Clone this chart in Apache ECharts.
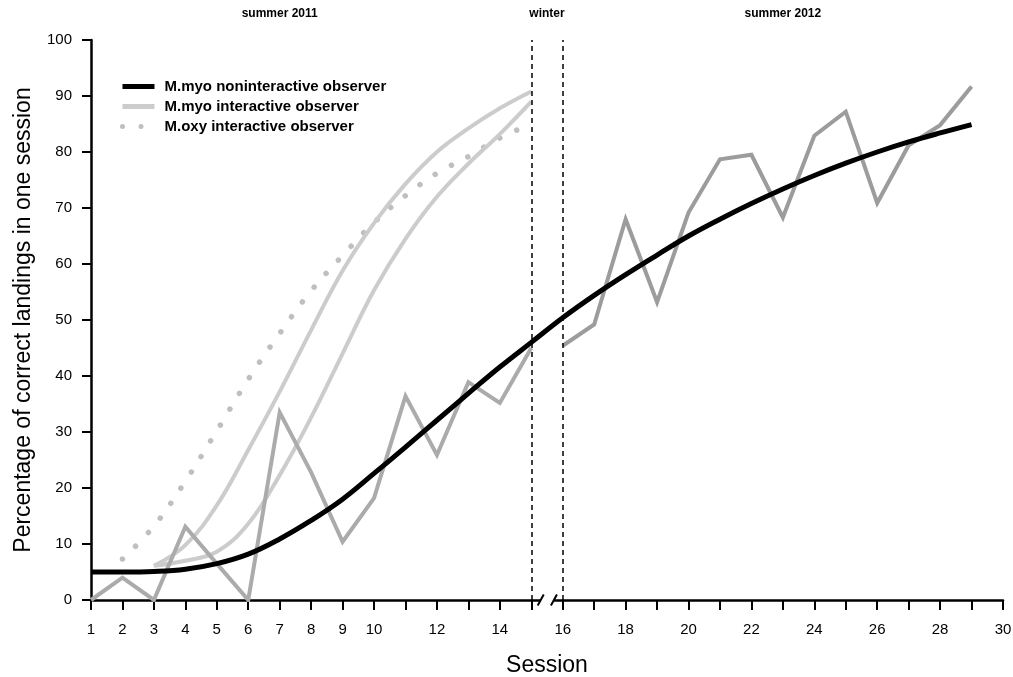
<!DOCTYPE html>
<html>
<head>
<meta charset="utf-8">
<script src="https://cdn.jsdelivr.net/npm/echarts@6/dist/echarts.min.js"></script>
<style>html,body{margin:0;padding:0;background:#fff}#chart{width:1013px;height:677px}</style>
</head>
<body>
<div id="chart"></div>
<script>
// ---- data ----
const sessions = [1,2,3,4,5,6,7,8,9,10,11,12,13,14,15,16,17,18,19,20,21,22,23,24,25,26,27,28,29];
const noninteractiveFit = [5.0,5.0,5.1,5.5,6.5,8.2,10.9,14.2,18.0,22.6,27.3,32.1,36.9,41.6,46.0,50.4,54.4,58.1,61.6,65.0,68.0,70.8,73.4,75.8,78.0,80.0,81.8,83.4,84.9];
const sessions2011 = [1,2,3,4,5,6,7,8,9,10,11,12,13,14,15];
const noninteractive2011 = [0,4.0,0,13.1,6.5,0,33.5,22.8,10.4,18.2,36.4,25.9,38.9,35.2,45.0];
const sessions2012 = [16,17,18,19,20,21,22,23,24,25,26,27,28,29];
const noninteractive2012 = [45.4,49.2,68.0,53.2,69.2,78.7,79.5,68.3,82.9,87.2,70.9,81.2,84.8,91.7];
const interactiveSessions = [3,4,5,6,7,8,9,10,11,12,13,14,15];
const myoInteractiveUpper = [6.1,9.8,16.9,26.8,37.2,48.2,58.8,67.3,74.3,80.0,84.2,87.8,90.8];
const myoInteractiveLower = [6.1,7.0,8.6,13.6,22.3,32.6,44.0,55.3,64.5,72.0,77.9,83.2,89.0];
const oxySessions = [2,3,4,5,6,7,8,9,10,11,12,13,14,15];
const oxyInteractive = [7.3,13.2,21.2,30.2,39.4,47.6,55.2,61.5,67.4,72.2,76.2,79.2,82.5,85.0];
const winterBounds = [15,16];
const periodLabels = ['summer 2011','winter','summer 2012'];
const periodCenters = [7,15.5,23];
const xTickLabels = [1,2,3,4,5,6,7,8,9,10,12,14,16,18,20,22,24,26,28,30];

const pairs = (xs, ys) => xs.map((x, i) => [x, ys[i]]);
const FONT = 'Liberation Sans, Arial, sans-serif';

const chart = echarts.init(document.getElementById('chart'), null, {renderer: 'canvas'});
chart.setOption({
  animation: false,
  backgroundColor: '#fff',
  grid: {left: 91, right: 10, top: 40, bottom: 77, containLabel: false, outerBoundsMode: 'none'},
  legend: {
    data: ['M.myo noninteractive observer', 'M.myo interactive observer', 'M.oxy interactive observer'],
    orient: 'vertical', left: 120, top: 79, padding: 0,
    itemWidth: 32, itemHeight: 14, itemGap: 5,
    itemStyle: {opacity: 0},
    lineStyle: {width: 5},
    textStyle: {fontFamily: FONT, fontSize: 15, fontWeight: 'bold', color: '#000', padding: [0,0,0,5]}
  },
  xAxis: {
    type: 'value', min: 1, max: 30, interval: 1,
    name: 'Session', nameLocation: 'middle', nameGap: 54,
    nameTextStyle: {fontFamily: FONT, fontSize: 23, color: '#000'},
    axisLine: {lineStyle: {color: '#000', width: 2.5}},
    axisTick: {length: 10, lineStyle: {color: '#000', width: 2}},
    axisLabel: {
      margin: 22, fontFamily: FONT, fontSize: 15, color: '#000',
      formatter: v => xTickLabels.indexOf(v) >= 0 ? String(v) : ''
    },
    splitLine: {show: false}
  },
  yAxis: {
    type: 'value', min: 0, max: 100, interval: 10,
    name: 'Percentage of correct landings in one session', nameLocation: 'middle', nameGap: 56,
    nameTextStyle: {fontFamily: FONT, fontSize: 23, color: '#000'},
    axisLine: {show: true, lineStyle: {color: '#000', width: 2.5}},
    axisTick: {show: true, length: 9, lineStyle: {color: '#000', width: 2}},
    axisLabel: {margin: 19, fontFamily: FONT, fontSize: 15, color: '#000'},
    splitLine: {show: false}
  },
  series: [
    {
      name: 'M.oxy interactive observer', type: 'line', smooth: 0.4, symbol: 'none',
      data: pairs(oxySessions, oxyInteractive),
      lineStyle: {color: '#bfbfbf', width: 5.5, type: [0.01, 18.5], cap: 'round'},
      itemStyle: {color: '#bfbfbf'}, z: 2
    },
    {
      name: 'M.myo interactive observer', type: 'line', smooth: 0.4, symbol: 'none',
      data: pairs(interactiveSessions, myoInteractiveUpper),
      lineStyle: {color: '#cccccc', width: 4}, itemStyle: {color: '#cccccc'}, z: 3
    },
    {
      name: 'M.myo interactive observer', type: 'line', smooth: 0.4, symbol: 'none',
      data: pairs(interactiveSessions, myoInteractiveLower),
      lineStyle: {color: '#cccccc', width: 4}, itemStyle: {color: '#cccccc'}, z: 3
    },
    {
      name: 'noninteractive 2011', type: 'line', symbol: 'none',
      data: pairs(sessions2011, noninteractive2011),
      lineStyle: {color: '#ababab', width: 4, join: 'miter'}, z: 4
    },
    {
      name: 'noninteractive 2012', type: 'line', symbol: 'none',
      data: pairs(sessions2012, noninteractive2012),
      lineStyle: {color: '#9c9c9c', width: 4, join: 'miter'}, z: 4
    },
    {
      name: 'M.myo noninteractive observer', type: 'line', smooth: 0.4, symbol: 'none',
      data: pairs(sessions, noninteractiveFit),
      lineStyle: {color: '#000', width: 5}, itemStyle: {color: '#000'}, z: 5,
      markLine: {
        silent: true, symbol: 'none', label: {show: false},
        lineStyle: {color: '#000', width: 1.5, type: [5, 4]},
        data: winterBounds.map(x => ({xAxis: x}))
      }
    },
    {
      name: 'axis break', type: 'custom', clip: false, silent: true, z: 10,
      data: [[winterBounds[0], winterBounds[1]]],
      renderItem: (params, api) => {
        const a = api.coord([api.value(0), 0]);
        const b = api.coord([api.value(1), 0]);
        const w = b[0] - a[0];
        const s1 = a[0] + w * 0.3, s2 = a[0] + w * 0.72;
        return {
          type: 'group',
          children: [
            {type: 'rect', shape: {x: s1, y: a[1] - 3, width: s2 - s1, height: 6}, style: {fill: '#fff'}},
            {type: 'line', shape: {x1: s1 - 3, y1: a[1] + 5.5, x2: s1 + 3, y2: a[1] - 5.5}, style: {stroke: '#000', lineWidth: 2}},
            {type: 'line', shape: {x1: s2 - 3, y1: a[1] + 5.5, x2: s2 + 3, y2: a[1] - 5.5}, style: {stroke: '#000', lineWidth: 2}}
          ]
        };
      }
    },
    {
      name: 'periods', type: 'custom', clip: false, silent: true, z: 10,
      data: periodCenters.map((c, i) => [c, 100, i]),
      renderItem: (params, api) => {
        const p = api.coord([api.value(0), api.value(1)]);
        return {
          type: 'text',
          style: {
            x: p[0], y: p[1] - 26, text: periodLabels[api.value(2)],
            align: 'center', verticalAlign: 'middle',
            font: 'bold 12px ' + FONT, fill: '#000'
          }
        };
      }
    }
  ]
});
</script>
</body>
</html>
